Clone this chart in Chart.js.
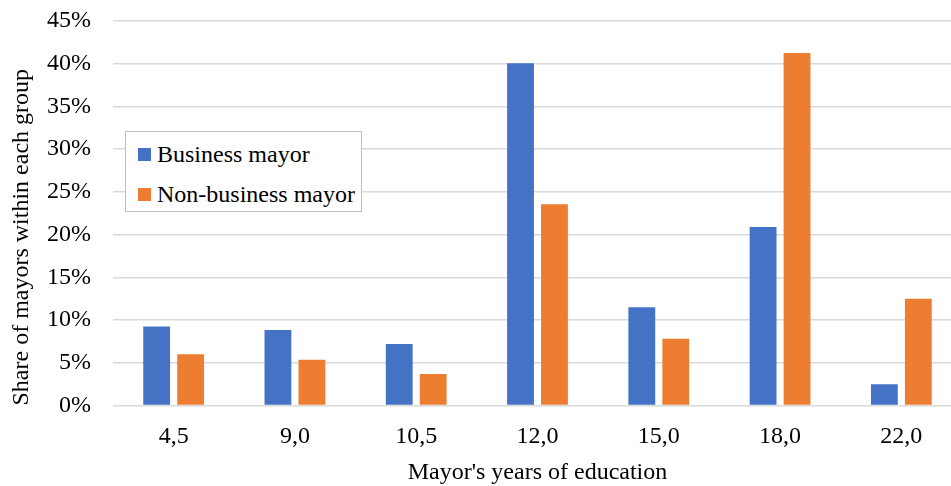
<!DOCTYPE html>
<html lang="en">

<head>
    <meta charset="UTF-8">
    <title>Mayor's years of education</title>
    <style>
        html, body {
            margin: 0;
            padding: 0;
            background: #fff;
            overflow: hidden;
        }

        #wrap {
            position: relative;
            width: 962px;
            height: 486px;
        }

        #legend {
            position: absolute;
            left: 125px;
            top: 131px;
            width: 235px;
            height: 79px;
            border: 1px solid #bfbfbf;
            background: #fff;
            font-family: "Liberation Serif", "Times New Roman", serif;
            font-size: 24px;
            color: #000;
        }

        #legend .item {
            position: absolute;
            left: 12px;
            height: 24px;
            line-height: 24px;
            white-space: nowrap;
        }

        #legend .swatch {
            display: inline-block;
            width: 13px;
            height: 13px;
            margin-right: 6px;
            vertical-align: 1px;
        }
    </style>
</head>

<body>
    <div id="wrap">
        <canvas id="chart" width="962" height="486"></canvas>
        <div id="legend"></div>
    </div>

    <script src="https://cdn.jsdelivr.net/npm/chart.js@4/dist/chart.umd.min.js"></script>
    <script>
        const years = ["4,5", "9,0", "10,5", "12,0", "15,0", "18,0", "22,0"];
        const business = [9.25, 8.85, 7.2, 40.05, 11.5, 20.9, 2.5];
        const non_business = [6.0, 5.35, 3.7, 23.55, 7.8, 41.25, 12.5];
        const series_names = ["Business mayor", "Non-business mayor"];
        const series_colors = ["#4472c4", "#ed7d31"];

        const font_family = "'Liberation Serif', 'Times New Roman', serif";
        Chart.defaults.font.family = font_family;
        Chart.defaults.font.size = 24;
        Chart.defaults.color = "#000";

        const datasets = [business, non_business].map((values, i) => ({
            label: series_names[i],
            data: values,
            backgroundColor: series_colors[i],
            borderWidth: 0,
            categoryPercentage: 0.56,
            barPercentage: 0.79
        }));

        new Chart(document.getElementById("chart"), {
            type: "bar",
            data: { labels: years, datasets },
            options: {
                responsive: false,
                animation: false,
                layout: { padding: { top: 21, right: 0, bottom: 0, left: 0 } },
                plugins: {
                    legend: { display: false },
                    tooltip: { enabled: false }
                },
                scales: {
                    x: {
                        grid: { display: false, drawTicks: false },
                        border: { display: false },
                        ticks: { padding: 17 },
                        title: {
                            display: true,
                            text: "Mayor's years of education",
                            padding: { top: 4, bottom: -1.5 }
                        },
                        afterFit: scale => { scale.height = 80.5; }
                    },
                    y: {
                        min: 0,
                        max: 45,
                        ticks: {
                            stepSize: 5,
                            padding: 22,
                            callback: v => v + "%"
                        },
                        grid: { color: "#d9d9d9", lineWidth: 1.5, drawTicks: false },
                        border: { display: false },
                        title: {
                            display: true,
                            align: "start",
                            text: "Share of mayors within each group",
                            padding: { top: 7.6, bottom: 0 }
                        },
                        afterFit: scale => {
                            // tick padding would otherwise push the plot top down
                            scale.width = 113;
                            scale.paddingTop = 0;
                            scale.paddingBottom = 0;
                        }
                    }
                }
            }
        });

        // legend box drawn as html, as in the original it sits inside the plot
        const legend = document.getElementById("legend");
        series_names.forEach((name, i) => {
            const item = document.createElement("div");
            item.className = "item";
            item.style.top = (9.5 + i * 40) + "px";
            item.innerHTML = '<span class="swatch" style="background:' + series_colors[i] + '"></span>' + name;
            legend.appendChild(item);
        });
    </script>
</body>

</html>
